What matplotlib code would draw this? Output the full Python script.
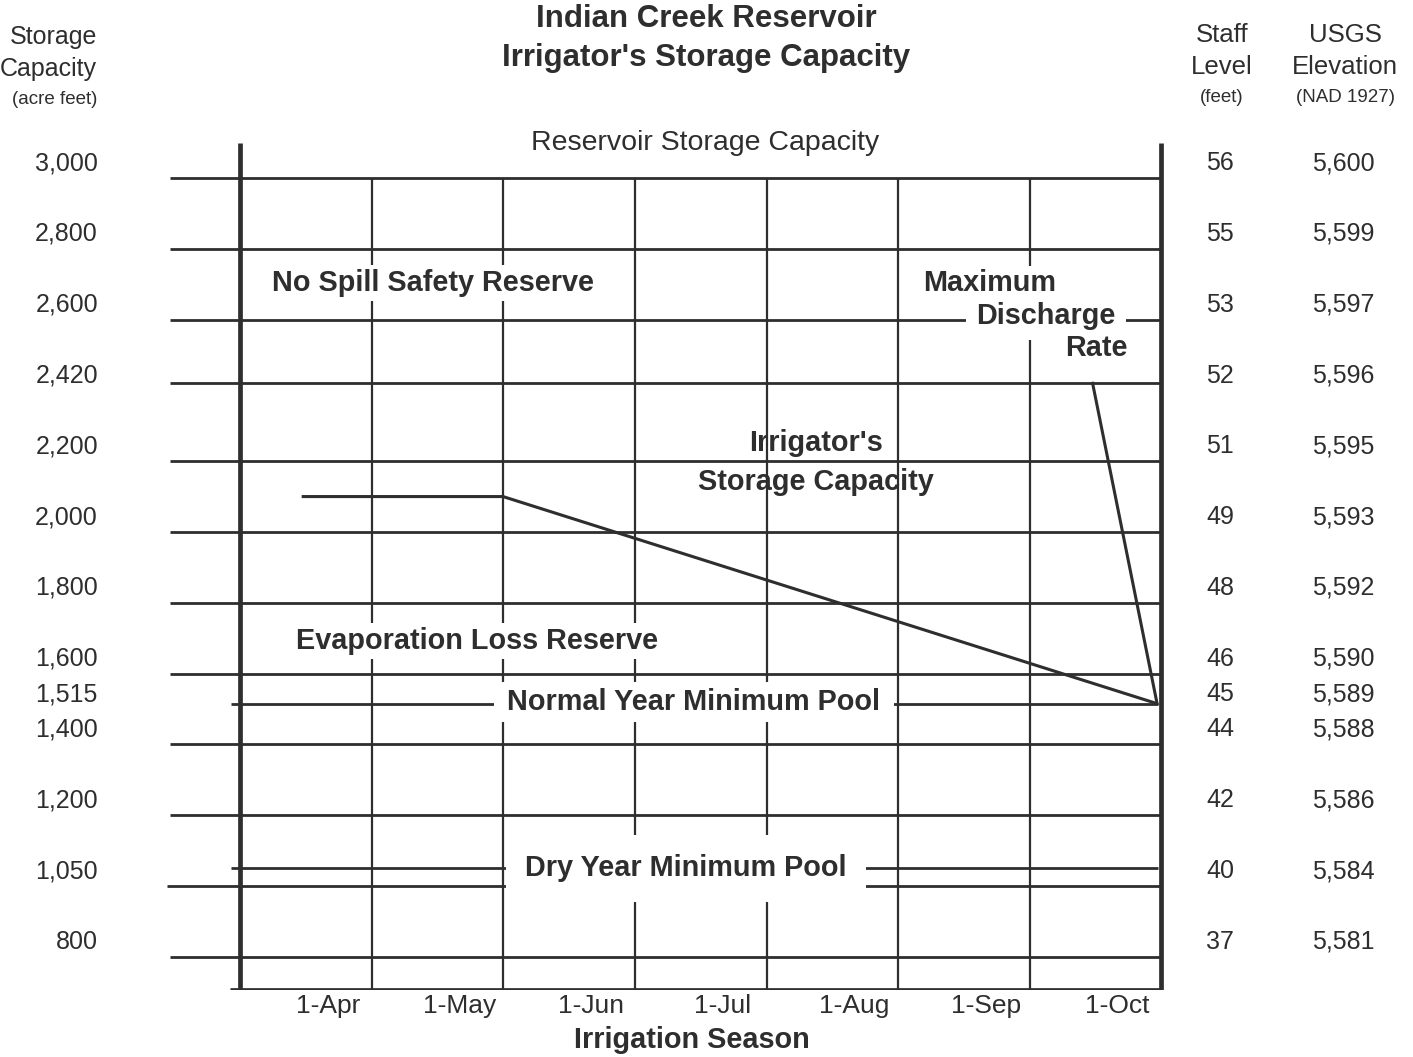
import numpy as np
import matplotlib.pyplot as plt

plt.rcParams['font.family'] = ['Liberation Sans', 'DejaVu Sans']

INK = '#2e2e2e'

# left axis: storage capacity (acre feet) and right columns
storage_ticks = [3000, 2800, 2600, 2420, 2200, 2000, 1800, 1600, 1515, 1400, 1200, 1050, 800]
label_rows = [0, 1, 2, 3, 4, 5, 6, 7, 7.5, 8, 9, 10, 11]
staff_level = [56, 55, 53, 52, 51, 49, 48, 46, 45, 44, 42, 40, 37]
usgs_elev = [5600, 5599, 5597, 5596, 5595, 5593, 5592, 5590, 5589, 5588, 5586, 5584, 5581]

# x axis: months (4 = 1-Apr)
month_pos = [4, 5, 6, 7, 8, 9, 10]
month_labels = ['1-Apr', '1-May', '1-Jun', '1-Jul', '1-Aug', '1-Sep', '1-Oct']

grid_levels = [3000, 2800, 2600, 2420, 2200, 2000, 1800, 1600, 1400, 1200, 800]
pool_grid = 1000
normal_pool = 1515
dry_pool = 1050
top_capacity = 3000

season_start = 3 + 1/3
season_end = 10 + 1/3
column_lines = [m + 1/3 for m in month_pos[:-1]]

# irrigator's storage capacity curve
irrig_x = [3.8, 5.33, 10.3]
irrig_y = [2100, 2100, 1515]
discharge_x = [10.3, 9.81]
discharge_y = [1515, 2420]

fig = plt.figure(figsize=(14.13, 10.57), dpi=100)
ax = fig.add_axes([0.11323, 0.06339, 0.71479, 0.8017])
ax.set_xlim(2.7234, 10.398)
ax.set_ylim(706, 3100)
for s in ax.spines.values():
    s.set_visible(False)

# grid
ax.hlines(grid_levels, 2.80, season_end, color=INK, lw=2, zorder=2)
ax.hlines(pool_grid, 2.78, season_end, color=INK, lw=2, zorder=2)
ax.hlines([normal_pool, dry_pool], season_start - 0.07, season_end - 0.03, color=INK, lw=2, zorder=2)
ax.vlines(column_lines, 706, top_capacity, color=INK, lw=1.6, zorder=2)

# frame
ax.vlines([season_start, season_end], 706, 3100, color=INK, lw=3.4, zorder=2)
ax.hlines(706, season_start - 0.08, season_end, color=INK, lw=3.4, zorder=2)

# irrigator's line
ax.plot(irrig_x, irrig_y, color=INK, lw=2.2, zorder=2, solid_capstyle='butt')
ax.plot(discharge_x, discharge_y, color=INK, lw=2.2, zorder=2)

ax.set_xticks(month_pos)
ax.set_xticklabels(month_labels, fontsize=19, color=INK)
ax.tick_params(axis='x', length=0, pad=3)
ax.set_yticks([])

# row labels
ytr = ax.get_yaxis_transform()
for v, r, st, el in zip(storage_ticks, label_rows, staff_level, usgs_elev):
    yl = 3042 - 200 * r
    ax.text(-0.0614, yl, f'{v:,}', transform=ytr, ha='right', va='center',
            fontsize=18, color=INK, clip_on=False)
    ax.text(1.0495, yl, str(st), transform=ytr, ha='center', va='center',
            fontsize=18, color=INK, clip_on=False)
    ax.text(1.1713, yl, f'{el:,}', transform=ytr, ha='center', va='center',
            fontsize=18, color=INK, clip_on=False)

bold = dict(fontsize=20.8, fontweight='bold', color=INK, ha='center', va='center', zorder=4)


def box(p):
    return dict(boxstyle=f'square,pad={p}', fc='white', ec='none')


ax.text(6.865, 3099, 'Reservoir Storage Capacity', fontsize=20.5, color=INK,
        ha='center', va='center', clip_on=False)
ax.text(4.80, 2703, 'No Spill Safety Reserve', bbox=box(0.15), **bold)
ax.text(9.03, 2703, 'Maximum', bbox=box(0.1), **bold)
ax.text(9.456, 2610, 'Discharge', bbox=box(0.35), **bold)
ax.text(9.836, 2520, 'Rate', **bold)
ax.text(7.708, 2251, "Irrigator's", **bold)
ax.text(7.708, 2141, 'Storage Capacity', **bold)
ax.text(5.132, 1692, 'Evaporation Loss Reserve', bbox=box(0.15), **bold)
ax.text(6.781, 1520, ' Normal Year Minimum Pool ', bbox=box(0.2), **bold)
ax.text(6.72, 1050, 'Dry Year Minimum Pool', bbox=box(0.68), **bold)

# headers
def fx(px):
    return px / 1413


def fy(py):
    return 1 - py / 1057


fig.text(fx(706), fy(19), 'Indian Creek Reservoir', fontsize=22.5, fontweight='bold',
         color=INK, ha='center', va='center')
fig.text(fx(706), fy(58), "Irrigator's Storage Capacity", fontsize=22.5, fontweight='bold',
         color=INK, ha='center', va='center')
fig.text(fx(692), fy(1040), 'Irrigation Season', fontsize=20.8, fontweight='bold',
         color=INK, ha='center', va='center')

fig.text(fx(97), fy(37), 'Storage', fontsize=18, color=INK, ha='right', va='center')
fig.text(fx(97), fy(69), 'Capacity', fontsize=18, color=INK, ha='right', va='center')
fig.text(fx(97), fy(99), '(acre feet)', fontsize=13.5, color=INK, ha='right', va='center')

fig.text(fx(1222), fy(35), 'Staff', fontsize=18.5, color=INK, ha='center', va='center')
fig.text(fx(1222), fy(67), 'Level', fontsize=18.5, color=INK, ha='center', va='center')
fig.text(fx(1222), fy(97), '(feet)', fontsize=13.5, color=INK, ha='center', va='center')
fig.text(fx(1345), fy(35), 'USGS', fontsize=18.5, color=INK, ha='center', va='center')
fig.text(fx(1345), fy(67), 'Elevation', fontsize=18.5, color=INK, ha='center', va='center')
fig.text(fx(1345), fy(97), '(NAD 1927)', fontsize=13.5, color=INK, ha='center', va='center')

fig.savefig('out.png', dpi=100, facecolor='white')
